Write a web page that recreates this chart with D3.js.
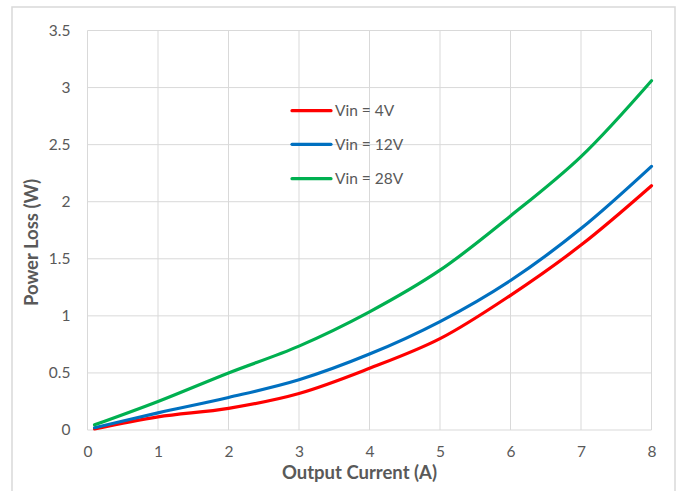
<!DOCTYPE html>
<html>
<head>
<meta charset="utf-8">
<script src="https://cdn.jsdelivr.net/npm/d3@7"></script>
<style>
  html, body { margin: 0; padding: 0; background: #fff; }
  svg { display: block; }
  text { font-family: Lato, "Open Sans", sans-serif; }
</style>
</head>
<body>
<svg id="chart" width="681" height="491"></svg>
<script>
// Data
const current = [0.1, 1, 2, 3, 4, 5, 6, 7, 8];
const loss4V  = [0.01, 0.115, 0.19, 0.32, 0.54, 0.80, 1.18, 1.62, 2.14];
const loss12V = [0.02, 0.15, 0.285, 0.44, 0.665, 0.95, 1.31, 1.765, 2.31];
const loss28V = [0.045, 0.25, 0.50, 0.735, 1.035, 1.40, 1.875, 2.395, 3.06];
const seriesNames = ["Vin = 4V", "Vin = 12V", "Vin = 28V"];
const seriesColors = ["#ff0000", "#0070c0", "#00b050"];
const xTicks = [0, 1, 2, 3, 4, 5, 6, 7, 8];
const yTicks = [0, 0.5, 1, 1.5, 2, 2.5, 3, 3.5];
const xTitle = "Output Current (A)";
const yTitle = "Power Loss (W)";

const series = [loss4V, loss12V, loss28V];

const svg = d3.select("#chart");
const plot = { left: 87.5, right: 651.5, top: 30.5, bottom: 430 };

// chart container border
svg.append("rect")
  .attr("x", 12).attr("y", 7)
  .attr("width", 663).attr("height", 500)
  .attr("fill", "#fff")
  .attr("stroke", "#d9d9d9").attr("stroke-width", 1.5);

const x = d3.scaleLinear().domain([0, 8]).range([plot.left, plot.right]);
const y = d3.scaleLinear().domain([0, 3.5]).range([plot.bottom, plot.top]);

// gridlines
const grid = svg.append("g");
grid.selectAll("line.v").data(xTicks).enter().append("line")
  .attr("x1", d => x(d)).attr("x2", d => x(d))
  .attr("y1", plot.top).attr("y2", plot.bottom)
  .attr("stroke", "#d9d9d9").attr("stroke-width", 1);
grid.selectAll("line.h").data(yTicks).enter().append("line")
  .attr("y1", d => y(d)).attr("y2", d => y(d))
  .attr("x1", plot.left).attr("x2", plot.right)
  .attr("stroke", "#d9d9d9").attr("stroke-width", 1);

// axes (labels only)
const xAxis = d3.axisBottom(x).tickValues(xTicks).tickSize(0).tickPadding(16).tickFormat(d3.format("d"));
const gx = svg.append("g").attr("transform", `translate(0,${plot.bottom})`).call(xAxis);
gx.select(".domain").remove();
gx.selectAll("text").attr("fill", "#595959").style("font-size", "15.5px").style("font-family", "Lato, sans-serif");

const yAxis = d3.axisLeft(y).tickValues(yTicks).tickSize(0).tickPadding(17).tickFormat(d => String(d));
const gy = svg.append("g").attr("transform", `translate(${plot.left},0)`).call(yAxis);
gy.select(".domain").remove();
gy.selectAll("text").attr("fill", "#595959").style("font-size", "15.5px").style("font-family", "Lato, sans-serif");

// titles
svg.append("text")
  .attr("x", 359.5).attr("y", 479)
  .attr("text-anchor", "middle")
  .attr("fill", "#595959")
  .style("font-size", "18.5px").style("font-weight", "bold")
  .text(xTitle);
svg.append("text")
  .attr("transform", `translate(38,242.5) rotate(-90)`)
  .attr("text-anchor", "middle")
  .attr("fill", "#595959")
  .style("font-size", "18.5px").style("font-weight", "bold")
  .text(yTitle);

// lines
const line = d3.line()
  .x((d, i) => x(current[i]))
  .y(d => y(d))
  .curve(d3.curveCatmullRom.alpha(0.5));

series.forEach((s, k) => {
  svg.append("path")
    .datum(s)
    .attr("fill", "none")
    .attr("stroke", seriesColors[k])
    .attr("stroke-width", 3.2)
    .attr("stroke-linecap", "round")
    .attr("d", line);
});

// legend
const legend = svg.append("g");
const legY = [110.7, 144.3, 178.7];
seriesNames.forEach((name, k) => {
  legend.append("line")
    .attr("x1", 292).attr("x2", 331)
    .attr("y1", legY[k]).attr("y2", legY[k])
    .attr("stroke", seriesColors[k]).attr("stroke-width", 3.2)
    .attr("stroke-linecap", "round");
  legend.append("text")
    .attr("x", 335).attr("y", legY[k] + 5.5)
    .attr("fill", "#595959")
    .style("font-size", "15.5px")
    .text(name);
});
</script>
</body>
</html>
